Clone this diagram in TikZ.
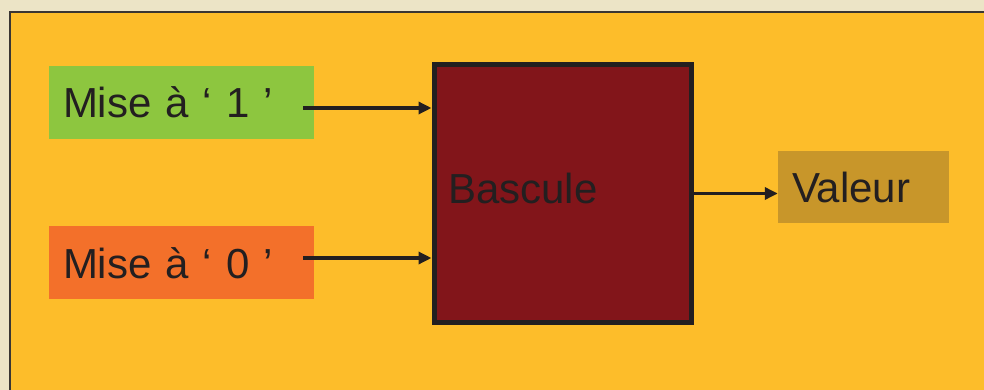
\documentclass[tikz,border=0pt]{standalone}
\usepackage{fontspec}
\setmainfont{Liberation Sans}
\usetikzlibrary{positioning,arrows.meta}

\definecolor{parchemin}{HTML}{ECE4C6}
\definecolor{fond}{HTML}{FDBD2A}
\definecolor{cadre}{HTML}{3A3633}
\definecolor{vert}{HTML}{8DC63F}
\definecolor{orange}{HTML}{F3702A}
\definecolor{rouge}{HTML}{82151A}
\definecolor{ocre}{HTML}{C8962A}
\definecolor{encre}{HTML}{231F20}

\tikzset{
  entree/.style={fill=#1, minimum width=265pt, minimum height=73pt,
    text width=237pt, inner xsep=14pt, align=left, text=encre,
    font=\fontsize{42pt}{48pt}\selectfont},
  fleche/.style={-{Triangle[length=13pt,width=12pt]}, line width=3.5pt, draw=encre}
}

\begin{document}
\begin{tikzpicture}[x=1pt,y=-1pt]
\useasboundingbox (0,0) rectangle (984,390);
\fill[parchemin] (0,0) rectangle (984,390);
\begin{scope}
  \clip (0,0) rectangle (984,390);
  \draw[fill=fond, draw=cadre, line width=2.5pt] (10,12) rectangle (1010,410);
\end{scope}

% entrees
\node[entree=vert] (set) at (181.5,102.5) {Mise à ‘ 1 ’};
\node[entree=orange, below=87pt of set] (reset) {Mise à ‘ 0 ’};

% la bascule
\node[draw=encre, fill=rouge, line width=5pt, minimum size=257pt,
  text width=229pt, inner xsep=14pt, align=left, text=encre, text depth=10pt,
  font=\fontsize{42pt}{48pt}\selectfont] (bascule) at (562.5,193.5) {Bascule};

% sortie
\node[entree=ocre, minimum width=171pt, minimum height=72pt, text width=143pt]
  (valeur) at (863.5,187) {Valeur};

\coordinate (e1) at (303,108);
\coordinate (e0) at (303,258);
\draw[fleche] (e1) -- (e1 -| bascule.west);
\draw[fleche] (e0) -- (e0 -| bascule.west);
\draw[fleche] (bascule.east) -- (bascule.east -| valeur.west);
\end{tikzpicture}
\end{document}
